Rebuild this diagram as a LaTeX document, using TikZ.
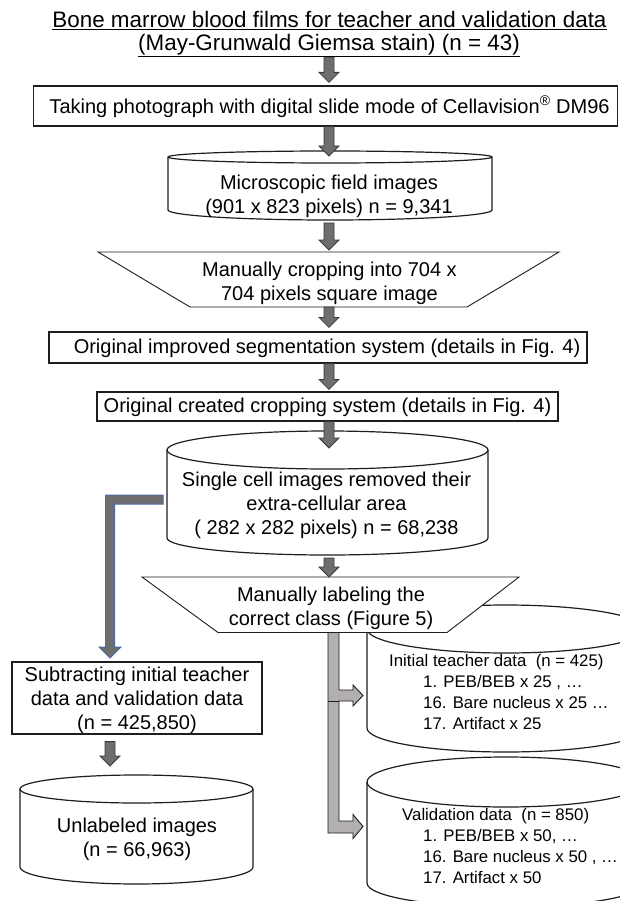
\documentclass[tikz,border=0pt]{standalone}
\usepackage{fontspec}
\setmainfont{Liberation Sans}
\usetikzlibrary{calc}

\definecolor{ink}{HTML}{1E1E1E}
\definecolor{arrowfill}{HTML}{6E6E6E}
\definecolor{arrowedge}{HTML}{3A3A3A}
\definecolor{forkfill}{HTML}{B3AFAF}
\definecolor{blueedge}{HTML}{4A69A6}

\tikzset{
  shapeline/.style={draw=ink, line width=1.2pt, fill=white},
  thinline/.style={draw=ink, line width=0.9pt, fill=white},
  boxnode/.style={rectangle, shapeline, inner sep=0pt},
  blockarrow/.style={fill=arrowfill, draw=arrowedge, line width=0.8pt, line join=miter},
  bluearrow/.style={fill=arrowfill, draw=blueedge, line width=1pt, line join=miter},
  forkarrow/.style={fill=forkfill, draw=ink, line width=0.9pt, line join=miter},
  titletext/.style={font=\fontsize{22.4}{26}\selectfont, inner sep=0pt, anchor=base},
  maintext/.style={font=\fontsize{20}{24}\selectfont, align=center, inner sep=0pt},
  listtext/.style={font=\fontsize{16.8}{21}\selectfont, align=left, inner sep=0pt, anchor=west},
}

% drum: #1 name, #2 centre x, #3 x radius, #4 y of top ellipse,
% #5 top y radius, #6 y of bottom ellipse, #7 bottom y radius
\newcommand\drum[7]{%
  \filldraw[shapeline] (#2-#3,#4) -- (#2-#3,#6)
    arc[start angle=180, end angle=360, x radius=#3pt, y radius=#7pt]
    -- (#2+#3,#4)
    arc[start angle=0, end angle=180, x radius=#3pt, y radius=#5pt] -- cycle;
  \draw[shapeline, fill=none] (#2-#3,#4)
    arc[start angle=180, end angle=360, x radius=#3pt, y radius=#5pt];
  \coordinate (#1-top) at (#2,#4-#5);
  \coordinate (#1-lid) at (#2,#4);
  \coordinate (#1-bot) at (#2,#6+#7);
}

% downward block arrow from the start point to the tip
\newcommand\blockdown[2]{%
  \draw[blockarrow] let \p1=#1, \p2=#2 in
    (\x2-5pt,\y1) -- (\x2-5pt,\y2+10pt) -- (\x2-10pt,\y2+10pt) -- (\p2)
    -- (\x2+10pt,\y2+10pt) -- (\x2+5pt,\y2+10pt) -- (\x2+5pt,\y1) -- cycle;
}

\begin{document}
\begin{tikzpicture}[x=1pt, y=-1pt]
\fill[white] (0,0) rectangle (619,901);
\useasboundingbox (0,0) rectangle (619,901);

\coordinate (spine) at (329,0);
\coordinate (leftcol) at (110,0);

% ---- right-hand data stores (drawn first, the labelling step overlaps them)
\drum{init}{506}{139}{629}{24}{728}{24}
\drum{valid}{506}{139}{782}{25}{883}{24}

% ---- main column
\node[boxnode, minimum width=584pt, minimum height=40pt] (photo) at (325.5,106) {};
\drum{field}{330}{162}{157}{6}{210}{10}
\filldraw[thinline] (98,252) -- (559,252) -- (467,307) -- (190,307) -- cycle;
\coordinate (crop-s) at (329,307);
\coordinate (crop-n) at (329,252);
\node[boxnode, minimum width=538pt, minimum height=31pt] (segm) at (318,347.5) {};
\node[boxnode, minimum width=461pt, minimum height=29pt] (cutter) at (327.5,406.5) {};
\drum{cells}{327.5}{160.5}{450}{19}{538}{17}
\filldraw[thinline] (142,577) -- (519,577) -- (447,632.5) -- (218,632.5) -- cycle;
\coordinate (label-n) at (329,577);
\coordinate (label-s) at (333.5,632.5);

% ---- left column
\node[boxnode, minimum width=250pt, minimum height=72pt] (subtract) at (137,698) {};
\drum{unlab}{136.5}{116.5}{789}{14}{867}{17}

% ---- block arrows of the main column
\coordinate (titlefoot) at (329,57);
\blockdown{(titlefoot)}{($(photo.north -| spine)+(0,-3)$)}
\blockdown{(photo.south -| spine)}{($(field-lid -| spine)+(0,-1)$)}
\blockdown{($(field-bot -| spine)+(0,3)$)}{($(crop-n)+(0,-2)$)}
\blockdown{(crop-s)}{($(segm.north -| spine)+(0,-4)$)}
\blockdown{(segm.south -| spine)}{($(cutter.north -| spine)+(0,-2)$)}
\blockdown{(cutter.south -| spine)}{($(cells-lid -| spine)+(0,-2)$)}
\blockdown{($(cells-bot -| spine)+(0,3)$)}{(label-n)}
\blockdown{($(subtract.south -| leftcol)+(0,7)$)}{($(unlab-top -| leftcol)+(0,-9)$)}

% ---- branch to the unlabelled pool
\coordinate (branch) at (163,499.5);
\coordinate (branchtip) at (110,658);
\draw[bluearrow] let \p1=(branch), \p2=(branchtip) in
  (\x1,\y1+4.5pt) -- (\x2-4.5pt,\y1+4.5pt) -- (\x2-4.5pt,\y2+11pt)
  -- (\x2-11pt,\y2+11pt) -- (\p2) -- (\x2+11pt,\y2+11pt)
  -- (\x2+4.5pt,\y2+11pt) -- (\x2+4.5pt,\y1-4.5pt) -- (\x1,\y1-4.5pt) -- cycle;

% ---- fork to teacher data and validation data
\coordinate (tipA) at (363,695.5);
\coordinate (tipB) at (363,826.5);
\draw[forkarrow] let \p1=(label-s), \p2=(tipA), \p3=(tipB) in
  (\x1-5.5pt,\y1) -- (\x1-5.5pt,\y3-6.5pt) -- (\x2-10pt,\y3-6.5pt)
  -- (\x2-10pt,\y3-12pt) -- (\p3) -- (\x2-10pt,\y3+12pt)
  -- (\x2-10pt,\y3+5.5pt) -- (\x1+5.5pt,\y3+5.5pt) -- (\x1+5.5pt,\y2-5.5pt)
  -- (\x2-10pt,\y2-5.5pt) -- (\x2-10pt,\y2-10.5pt) -- (\p2)
  -- (\x2-10pt,\y2+10.5pt) -- (\x2-10pt,\y2+5.5pt) -- (\x1+5.5pt,\y2+5.5pt)
  -- (\x1+5.5pt,\y1) -- cycle;
\draw[draw=ink, line width=0.9pt] let \p1=(label-s), \p2=(tipA) in
  (\x1-5.5pt,\y2-5.5pt) -- (\x1+5.5pt,\y2-5.5pt);

% ---- texts
\node[titletext] (title1) at (329.5,27.5)
  {\underline{Bone marrow blood films for teacher and validation data}};
\node[titletext] (title2) at (329,50.5)
  {\underline{(May-Grunwald Giemsa stain) (n = 43)}};
\node[maintext] (photo-t) at (329.5,106.5)
  {Taking photograph with digital slide mode of Cellavision\textsuperscript{®} DM96};
\node[maintext] (field-t) at (329,196)
  {Microscopic field images\\(901 x 823 pixels) n = 9,341};
\node[maintext] (crop-t) at (329.5,283)
  {Manually cropping into 704 x\\704 pixels square image};
\node[maintext] (segm-t) at (327,348)
  {Original improved segmentation system (details in Fig. 4)};
\node[maintext] (cutter-t) at (327.5,407)
  {Original created cropping system (details in Fig. 4)};
\node[maintext] (cells-t) at (326.5,505)
  {Single cell images removed their\\extra-cellular area\\( 282 x 282 pixels) n = 68,238};
\node[maintext] (label-t) at (331,608)
  {Manually labeling the\\correct class (Figure 5)};
\node[maintext] (subtract-t) at (137,700)
  {Subtracting initial teacher\\data and validation data\\(n = 425,850)};
\node[maintext] (unlab-t) at (137,839)
  {Unlabeled images\\(n = 66,963)};
\node[listtext] (init-t) at (389,692)
  {Initial teacher data~ (n = 425)\\
   \hspace*{34pt}1. PEB/BEB x 25 , …\\
   \hspace*{34pt}16. Bare nucleus x 25 …\\
   \hspace*{34pt}17. Artifact x 25};
\node[listtext] (valid-t) at (402,846)
  {Validation data~ (n = 850)\\
   \hspace*{21pt}1. PEB/BEB x 50, …\\
   \hspace*{21pt}16. Bare nucleus x 50 , …\\
   \hspace*{21pt}17. Artifact x 50};
\end{tikzpicture}
\end{document}
